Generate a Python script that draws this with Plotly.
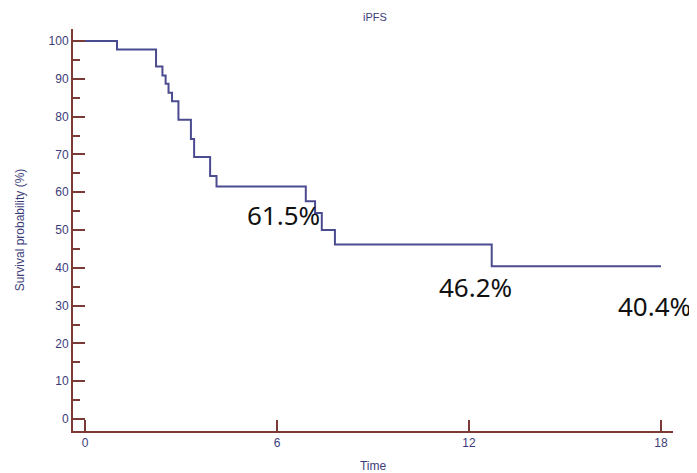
import plotly.graph_objects as go

# Kaplan-Meier step data
times = [0, 1.0, 2.22, 2.42, 2.52, 2.61, 2.72, 2.92, 3.31, 3.41, 3.91, 4.11,
         6.90, 7.19, 7.40, 7.81, 12.71, 18.0]
surv = [100, 97.8, 93.3, 90.9, 88.7, 86.3, 84.1, 79.2, 74.1, 69.3, 64.3, 61.5,
        57.6, 54.5, 50.0, 46.2, 40.4, 40.4]

x_ticks = [0, 6, 12, 18]
y_ticks = list(range(0, 101, 10))
labels = ["61.5%", "46.2%", "40.4%"]

axis_col = "#7b3a35"
line_col = "#4b4b8f"
text_col = "#3c3c78"

fig = go.Figure()
fig.add_trace(go.Scatter(x=times, y=surv, mode="lines", line_shape="hv",
                         line=dict(color=line_col, width=2), showlegend=False,
                         hoverinfo="skip"))

ann_pos = [(6.19, 54.0), (12.19, 35.0), (17.8, 30.0)]
for txt, (ax, ay) in zip(labels, ann_pos):
    fig.add_annotation(x=ax, y=ay, text=txt, showarrow=False, xanchor="center",
                       yanchor="middle",
                       font=dict(family="Noto Sans", size=26, color="#111111"))

fig.add_annotation(x=0.5035, xref="paper", y=1.03, yref="paper", text="iPFS",
                   showarrow=False, xanchor="center", yanchor="middle",
                   font=dict(family="Liberation Sans", size=11, color=text_col))

fig.update_layout(
    width=689, height=465,
    margin=dict(l=65, r=24, t=21, b=42, autoexpand=False),
    paper_bgcolor="white", plot_bgcolor="white",
    font=dict(family="Liberation Sans", size=12, color=text_col),
)
fig.update_xaxes(range=[-0.375, 18.375], tickvals=x_ticks, ticks="inside",
                 ticklen=11, tickwidth=1.5, tickcolor=axis_col,
                 showline=True, linecolor=axis_col, linewidth=2,
                 showgrid=False, zeroline=False, automargin=False,
                 tickfont=dict(size=12, color=text_col),
                 title=dict(text="Time", standoff=15,
                            font=dict(size=12, color=text_col)))
fig.update_yaxes(range=[-3.18, 103.2], tickvals=y_ticks, ticks="inside",
                 ticklen=12, tickwidth=1.5, tickcolor=axis_col,
                 minor=dict(dtick=5, tick0=5, ticks="inside", ticklen=7,
                            tickwidth=1.5, tickcolor=axis_col),
                 showline=True, linecolor=axis_col, linewidth=2,
                 showgrid=False, zeroline=False, automargin=False,
                 tickfont=dict(size=12, color=text_col),
                 title=dict(text="Survival probability (%)", standoff=21,
                            font=dict(size=12, color=text_col)))

fig.write_html("out.html")
